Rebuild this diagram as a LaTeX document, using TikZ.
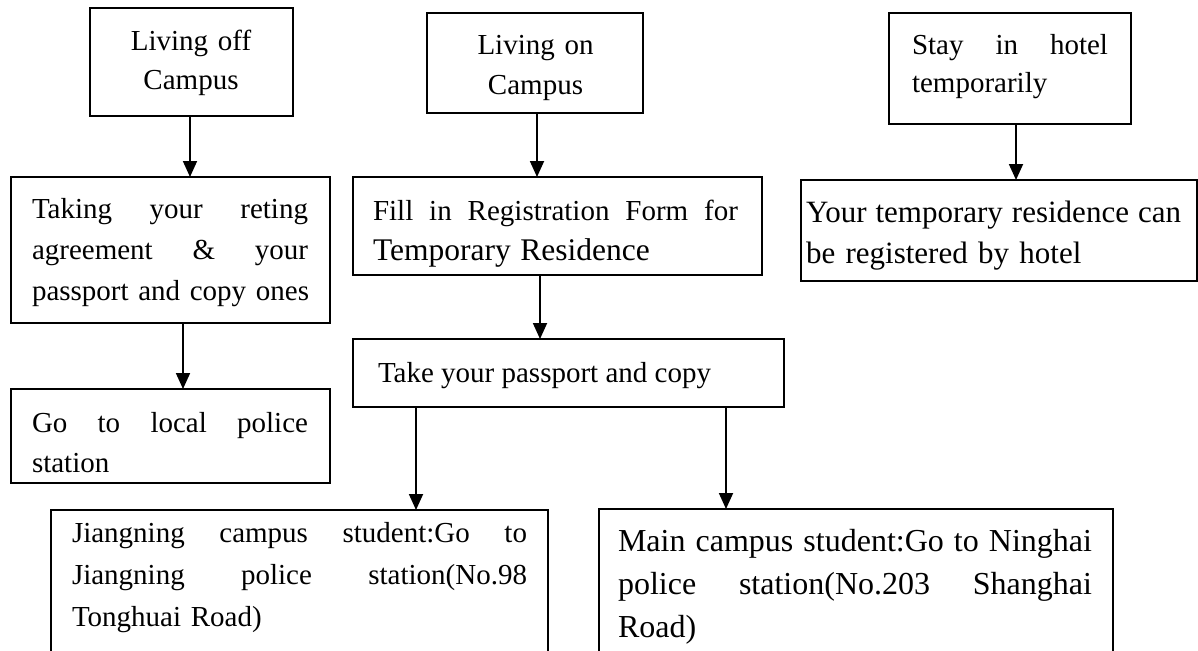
\documentclass[tikz,border=0pt]{standalone}
\usepackage{fontspec}
\setmainfont{Liberation Serif}
\usetikzlibrary{arrows.meta}
\newcommand{\jline}[2]{\leavevmode\hbox to #1{#2}}
\begin{document}
\begin{tikzpicture}[x=1pt,y=-1pt,
  box/.style={draw=black,line width=1.4pt,fill=white,inner sep=0pt,outer sep=0pt,anchor=north west},
  txt/.style={inner sep=0pt,outer sep=0pt,anchor=base west,align=left},
  ctxt/.style={inner sep=0pt,outer sep=0pt,anchor=base,align=center,text width=190pt},
  arr/.style={line width=1.8pt,-{Triangle[width=14pt,length=16pt]}}
]
\useasboundingbox (0,0) rectangle (1198,650);
% boxes
\node[box,minimum width=203pt,minimum height=108pt] (A) at (90,8) {};
\node[box,minimum width=216pt,minimum height=100pt] (B) at (427,13) {};
\node[box,minimum width=242pt,minimum height=111pt] (C) at (889,13) {};
\node[box,minimum width=319pt,minimum height=146pt] (D) at (11,177) {};
\node[box,minimum width=409pt,minimum height=98pt] (E) at (353,177) {};
\node[box,minimum width=396pt,minimum height=101pt] (F) at (801,180) {};
\node[box,minimum width=319pt,minimum height=94pt] (G) at (11,389) {};
\node[box,minimum width=431pt,minimum height=68pt] (H) at (353,339) {};
\node[box,minimum width=497pt,minimum height=170pt] (I) at (51,510) {};
\node[box,minimum width=514pt,minimum height=170pt] (J) at (599,509) {};
% texts
\node[ctxt,font=\fontsize{29}{39}\selectfont] (At) at (191,51) {Living off\\Campus};
\node[ctxt,font=\fontsize{29}{40}\selectfont] (Bt) at (535.5,55) {Living on\\Campus};
\node[txt,text width=230pt,font=\fontsize{29}{38}\selectfont] (Ct) at (912,55) {\jline{196pt}{Stay\hfill in\hfill hotel}\\temporarily};
\node[txt,text width=300pt,font=\fontsize{29}{41}\selectfont] (Dt) at (32,218) {\jline{276pt}{Taking\hfill your\hfill reting}\\\jline{276pt}{agreement\hfill \&\hfill your}\\passport and copy ones};
\node[txt,text width=400pt,font=\fontsize{29}{40}\selectfont] (Et) at (373,220) {\jline{365pt}{Fill\hfill in\hfill Registration\hfill Form\hfill for}\\{\fontsize{31.5}{40}\selectfont Temporary Residence}};
\node[txt,text width=400pt,font=\fontsize{31}{41}\selectfont] (Ft) at (806,222) {\jline{375pt}{Your\hfill temporary\hfill residence\hfill can}\\be registered by hotel};
\node[txt,text width=300pt,font=\fontsize{29}{40}\selectfont] (Gt) at (32,432) {\jline{276pt}{Go\hfill to\hfill local\hfill police}\\station};
\node[txt,font=\fontsize{29}{40}\selectfont] (Ht) at (378,382) {Take your passport and copy};
\node[txt,text width=480pt,font=\fontsize{29}{42}\selectfont] (It) at (72,542) {\jline{455pt}{Jiangning\hfill campus\hfill student:Go\hfill to}\\\jline{455pt}{Jiangning\hfill police\hfill station(No.98}\\Tonghuai Road)};
\node[txt,text width=500pt,font=\fontsize{32}{43}\selectfont] (Jt) at (618,551) {\jline{474pt}{Main\hfill campus\hfill student:Go\hfill to\hfill Ninghai}\\\jline{474pt}{police\hfill station(No.203\hfill Shanghai}\\Road)};
% connector start points
\path ([xshift=-1.5pt]A.south) coordinate (a1);
\path ([xshift=2pt]B.south) coordinate (b1);
\path ([xshift=6pt]C.south) coordinate (c1);
\path ([xshift=12.5pt]D.south) coordinate (d1);
\path ([xshift=-17.5pt]E.south) coordinate (e1);
\path ([xshift=-152.5pt]H.south) coordinate (h1);
\path ([xshift=157.5pt]H.south) coordinate (h2);
% connectors
\draw[arr] (a1) -- (a1 |- D.north);
\draw[arr] (b1) -- (b1 |- E.north);
\draw[arr] (c1) -- (c1 |- F.north);
\draw[arr] (d1) -- (d1 |- G.north);
\draw[arr] (e1) -- (e1 |- H.north);
\draw[arr] (h1) -- (h1 |- I.north);
\draw[arr] (h2) -- (h2 |- J.north);
\end{tikzpicture}
\end{document}
